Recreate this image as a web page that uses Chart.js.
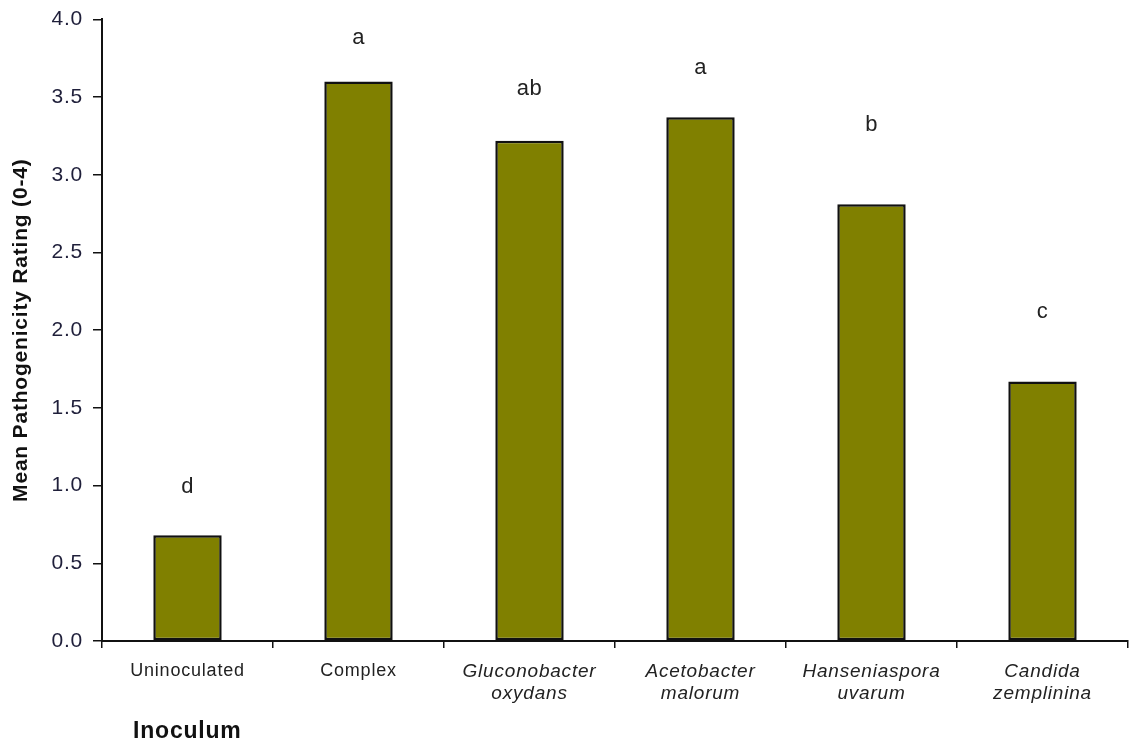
<!DOCTYPE html>
<html>
<head>
<meta charset="utf-8">
<script src="https://cdn.jsdelivr.net/npm/chart.js@4"></script>
<style>
    html, body { margin: 0; padding: 0; background: #fff; }
    #wrap { width: 1131px; height: 747px; }
</style>
</head>
<body>
<div id="wrap"><canvas id="pathChart" width="1131" height="747"></canvas></div>
<script>
// Inoculum categories (multi-line labels)
const categories = [
    ['Uninoculated'],
    ['Complex'],
    ['Gluconobacter', 'oxydans'],
    ['Acetobacter', 'malorum'],
    ['Hanseniaspora', 'uvarum'],
    ['Candida', 'zemplinina']
];
const italicLabel = [false, false, true, true, true, true];

// Mean pathogenicity rating per inoculum
const ratings = [0.68, 3.60, 3.22, 3.37, 2.81, 1.67];

// Significance letters and the rating level they sit at
const letters = ['d', 'a', 'ab', 'a', 'b', 'c'];
const letterLevel = [0.99, 3.88, 3.55, 3.69, 3.32, 2.12];

const yTicks = [0, 0.5, 1, 1.5, 2, 2.5, 3, 3.5, 4];

const FONT = '"Liberation Sans", Arial, sans-serif';
const TEXT = '#1f1f3a';

// the source figure's text is a bit stretched, so widen glyph spacing a little
const wideText = {
    id: 'wideText',
    beforeDraw(chart) {
        chart.ctx.letterSpacing = '0.8px';
    }
};

// draws the letters above bars and the "Inoculum" caption
const annotations = {
    id: 'annotations',
    afterDatasetsDraw(chart) {
        const { ctx, scales: { x, y } } = chart;
        ctx.save();
        ctx.letterSpacing = '0.5px';
        ctx.fillStyle = '#222';
        ctx.font = '22px ' + FONT;
        ctx.textAlign = 'center';
        ctx.textBaseline = 'middle';
        letters.forEach((l, i) => {
            ctx.fillText(l, x.getPixelForValue(i), y.getPixelForValue(letterLevel[i]));
        });
        ctx.letterSpacing = '0.8px';
        ctx.font = 'bold 23px ' + FONT;
        ctx.fillStyle = '#111';
        ctx.textAlign = 'left';
        ctx.fillText('Inoculum', 133, 732);
        ctx.restore();
    }
};

new Chart(document.getElementById('pathChart'), {
    type: 'bar',
    data: {
        labels: categories,
        datasets: [{
            data: ratings,
            backgroundColor: '#808000',
            borderColor: '#111',
            borderWidth: 2.5,
            borderSkipped: false,
            barPercentage: 0.4,
            categoryPercentage: 1.0
        }]
    },
    options: {
        responsive: false,
        animation: false,
        devicePixelRatio: 1,
        layout: { padding: { top: 17, right: 3, left: 0, bottom: 0 } },
        plugins: {
            legend: { display: false },
            tooltip: { enabled: false }
        },
        scales: {
            x: {
                grid: {
                    offset: true,
                    drawOnChartArea: false,
                    color: '#111',
                    tickLength: 7,
                    lineWidth: 1.5
                },
                border: { color: '#111', width: 2 },
                ticks: {
                    color: '#222',
                    padding: 12,
                    maxRotation: 0,
                    autoSkip: false,
                    font: (c) => italicLabel[c.index]
                        ? { family: FONT, size: 19, style: 'italic', lineHeight: 1.2 }
                        : { family: FONT, size: 18, lineHeight: 1.2 }
                },
                afterFit(scale) { scale.height = 106; }
            },
            y: {
                min: 0,
                max: 4,
                afterBuildTicks(scale) { scale.ticks = yTicks.map(v => ({ value: v })); },
                grid: {
                    drawOnChartArea: false,
                    color: '#111',
                    tickLength: 9,
                    lineWidth: 1.5
                },
                border: { color: '#111', width: 2 },
                ticks: {
                    color: TEXT,
                    padding: 10,
                    font: { family: FONT, size: 21, lineHeight: 0.9 },
                    callback: (v) => Number(v).toFixed(1)
                },
                title: {
                    display: true,
                    text: 'Mean Pathogenicity Rating (0-4)',
                    color: '#111',
                    padding: { top: 9, bottom: 4 },
                    font: { family: FONT, size: 21, weight: 'bold' }
                },
                afterFit(scale) { scale.width = 102; }
            }
        }
    },
    plugins: [wideText, annotations]
});
</script>
</body>
</html>
